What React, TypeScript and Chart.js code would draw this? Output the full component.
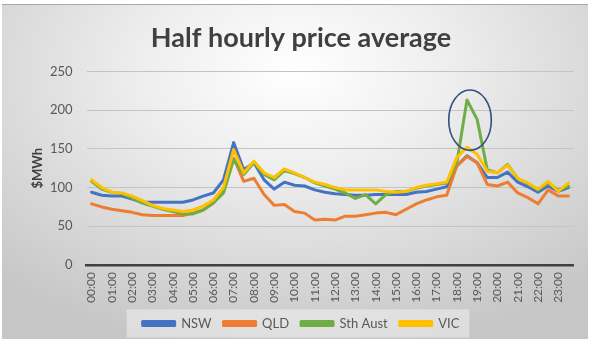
import React, { useEffect, useRef } from 'react';
import { Chart, registerables } from 'chart.js';

Chart.register(...registerables);

const TIME_LABELS = [
  '00:00', '00:30', '01:00', '01:30', '02:00', '02:30', '03:00', '03:30',
  '04:00', '04:30', '05:00', '05:30', '06:00', '06:30', '07:00', '07:30',
  '08:00', '08:30', '09:00', '09:30', '10:00', '10:30', '11:00', '11:30',
  '12:00', '12:30', '13:00', '13:30', '14:00', '14:30', '15:00', '15:30',
  '16:00', '16:30', '17:00', '17:30', '18:00', '18:30', '19:00', '19:30',
  '20:00', '20:30', '21:00', '21:30', '22:00', '22:30', '23:00', '23:30',
];

const NSW = [94, 90, 89, 89, 85, 81, 81, 81, 81, 81, 84, 89, 93, 110, 158, 123, 132, 110, 98, 107, 103, 102, 97, 94, 92, 91, 90, 90, 91, 91, 91, 91, 94, 95, 98, 101, 128, 141, 132, 113, 113, 120, 107, 101, 94, 102, 95, 100];
const QLD = [79, 75, 72, 70, 68, 65, 64, 64, 64, 64, 67, 71, 80, 95, 138, 108, 112, 91, 77, 78, 69, 67, 58, 59, 58, 63, 63, 65, 67, 68, 65, 72, 79, 84, 88, 90, 128, 140, 132, 104, 102, 107, 93, 87, 79, 97, 89, 89];
const STH_AUST = [108, 98, 94, 92, 86, 80, 76, 72, 69, 66, 66, 71, 80, 93, 136, 117, 132, 117, 110, 122, 118, 113, 106, 102, 98, 93, 86, 91, 79, 91, 95, 95, 99, 102, 104, 106, 132, 213, 188, 123, 119, 130, 112, 105, 97, 106, 97, 102];
const VIC = [110, 100, 94, 93, 89, 83, 77, 73, 71, 69, 71, 76, 84, 100, 149, 119, 134, 119, 113, 124, 119, 113, 107, 104, 100, 97, 97, 97, 97, 95, 94, 95, 100, 103, 105, 107, 139, 152, 143, 121, 119, 129, 112, 106, 98, 108, 95, 106];

const SERIES_NAMES = ['NSW', 'QLD', 'Sth Aust', 'VIC'];
const SERIES_COLORS = ['#4472C4', '#ED7D31', '#70AD47', '#FFC000'];

const Y_MIN = 0;
const Y_MAX = 250;
const Y_STEP = 50;

// highlighted region (ellipse annotation), in data units
const HIGHLIGHT_INDEX = 37.3;
const HIGHLIGHT_VALUE = 187;
const HIGHLIGHT_RX = 2.1;
const HIGHLIGHT_RY = 39;

const FONT = "Lato, 'Open Sans', sans-serif";

const highlightPlugin = {
  id: 'highlightEllipse',
  afterDatasetsDraw(chart: any) {
    const xs = chart.scales.x;
    const ys = chart.scales.y;
    const cx = xs.getPixelForValue(HIGHLIGHT_INDEX);
    const cy = ys.getPixelForValue(HIGHLIGHT_VALUE);
    const rx = Math.abs(xs.getPixelForValue(HIGHLIGHT_INDEX + HIGHLIGHT_RX) - cx);
    const ry = Math.abs(ys.getPixelForValue(HIGHLIGHT_VALUE + HIGHLIGHT_RY) - cy);
    const ctx = chart.ctx;
    ctx.save();
    ctx.beginPath();
    ctx.ellipse(cx, cy, rx, ry, 0, 0, Math.PI * 2);
    ctx.strokeStyle = '#33507f';
    ctx.lineWidth = 1.6;
    ctx.stroke();
    ctx.restore();
  },
};

const legendBackdropPlugin = {
  id: 'legendBackdrop',
  beforeDraw(chart: any) {
    const lg = chart.legend;
    if (!lg || !lg.legendHitBoxes || !lg.legendHitBoxes.length) return;
    const boxes = lg.legendHitBoxes;
    let left = Infinity, right = -Infinity, top = Infinity, bottom = -Infinity;
    boxes.forEach((b: any) => {
      left = Math.min(left, b.left);
      right = Math.max(right, b.left + b.width);
      top = Math.min(top, b.top);
      bottom = Math.max(bottom, b.top + b.height);
    });
    const ctx = chart.ctx;
    ctx.save();
    ctx.fillStyle = 'rgba(255,255,255,0.4)';
    const cy = (top + bottom) / 2;
    ctx.fillRect(left - 16, cy - 14, right - left + 26, 28);
    ctx.restore();
  },
};

export default function App() {
  const canvasRef = useRef<HTMLCanvasElement | null>(null);

  useEffect(() => {
    document.body.style.margin = '0';
    const canvas = canvasRef.current;
    if (!canvas) return;
    const seriesData = [NSW, QLD, STH_AUST, VIC];
    const chart = new Chart(canvas, {
      type: 'line',
      data: {
        labels: TIME_LABELS,
        datasets: SERIES_NAMES.map((name, i) => ({
          label: name,
          data: seriesData[i],
          borderColor: SERIES_COLORS[i],
          backgroundColor: SERIES_COLORS[i],
          borderWidth: 3,
          pointRadius: 0,
          tension: 0,
          fill: false,
          borderCapStyle: 'round',
          borderJoinStyle: 'round',
          order: SERIES_NAMES.length - i,
        })),
      },
      options: {
        animation: false,
        responsive: false,
        devicePixelRatio: 1,
        layout: { padding: { left: 26, right: 14, top: 0, bottom: 23 } },
        plugins: {
          title: {
            display: true,
            text: 'Half hourly price average',
            color: '#404040',
            font: { family: FONT, size: 27, weight: 'bold' },
            padding: { top: 22, bottom: 17 },
          },
          legend: {
            position: 'bottom',
            labels: {
              boxWidth: 32,
              boxHeight: 4,
              padding: 12,
              color: '#595959',
              font: { family: FONT, size: 13 },
              sort: (a: any, b: any) => a.datasetIndex - b.datasetIndex,
            },
          },
          tooltip: { enabled: false },
        },
        scales: {
          x: {
            type: 'category',
            offset: true,
            grid: { display: false, drawTicks: false },
            border: { display: true, color: '#404040', width: 2.5 },
            afterFit: (s: any) => { s.height = 40; },
            ticks: {
              autoSkip: false,
              maxRotation: 90,
              minRotation: 90,
              padding: 7,
              color: '#595959',
              font: { family: FONT, size: 12 },
              callback: (_v: any, idx: number) => (idx % 2 === 0 ? TIME_LABELS[idx] : ''),
            },
          },
          y: {
            min: Y_MIN,
            max: Y_MAX,
            afterFit: (s: any) => { s.width = 60.5; },
            ticks: {
              stepSize: Y_STEP,
              padding: 14,
              color: '#595959',
              font: { family: FONT, size: 13 },
            },
            grid: { color: '#c4c4c4', lineWidth: 1, drawTicks: false },
            border: { display: false },
            title: {
              display: true,
              text: '$MWh',
              color: '#404040',
              font: { family: FONT, size: 13, weight: 'bold' },
              padding: { top: 4, bottom: 0 },
            },
          },
        },
      },
      plugins: [legendBackdropPlugin, highlightPlugin],
    } as any);
    return () => chart.destroy();
  }, []);

  return (
    <div style={{ position: 'relative', width: 590, height: 363, background: '#ffffff', overflow: 'hidden' }}>
      <div
        style={{
          position: 'absolute',
          left: 2,
          top: 4,
          width: 586,
          height: 334,
          borderTop: '1px solid #a8a8a8',
          background:
            'radial-gradient(ellipse 75% 85% at 50% 20%, #ffffff 0%, #eeeeee 35%, #d8d8d8 70%, #c6c6c6 100%)',
        }}
      />
      <canvas
        ref={canvasRef}
        width={590}
        height={363}
        style={{ position: 'absolute', left: 0, top: 0, width: 590, height: 363 }}
      />
    </div>
  );
}
